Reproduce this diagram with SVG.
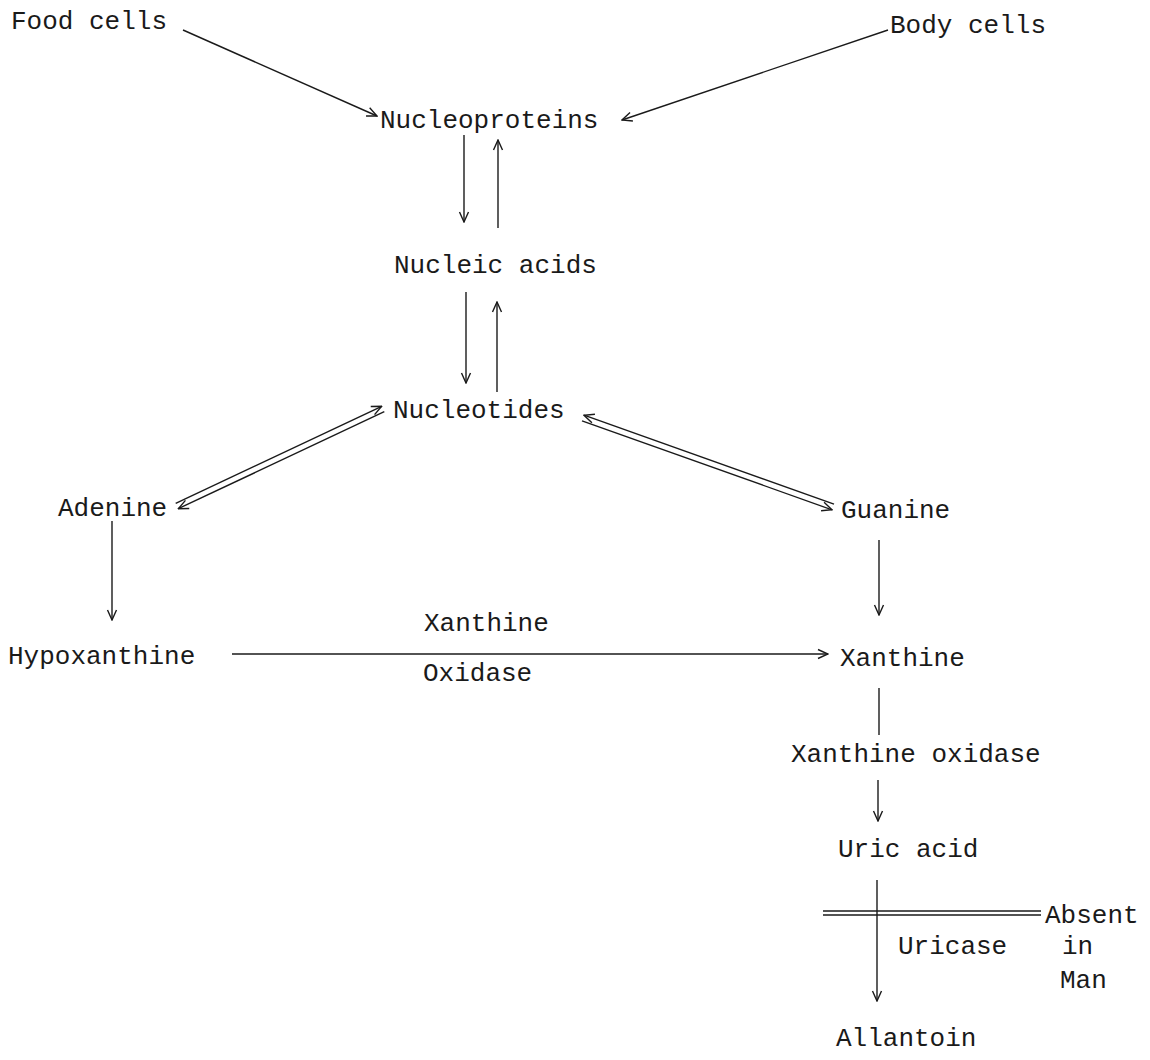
<svg xmlns="http://www.w3.org/2000/svg" width="1150" height="1060" viewBox="0 0 1150 1060">
<defs>
<style>
.t{font-family:"Liberation Mono","DejaVu Sans Mono",monospace;font-size:26px;fill:#1a1a1a}
.c{stroke:#1a1a1a;stroke-width:1.4;fill:none}
</style>
<marker id="ah" viewBox="0 0 12 12" refX="11" refY="6" markerWidth="12" markerHeight="12" markerUnits="userSpaceOnUse" orient="auto-start-reverse">
<path d="M1,1.5 L11,6 L1,10.5" fill="none" stroke="#1a1a1a" stroke-width="1.4"/>
</marker>
</defs>
<rect width="1150" height="1060" fill="#ffffff"/>
<g id="connectors">
<line class="c" x1="183" y1="30" x2="377" y2="116" marker-end="url(#ah)"/>
<line class="c" x1="888" y1="30" x2="622" y2="120" marker-end="url(#ah)"/>
<line class="c" x1="464" y1="135" x2="464" y2="222" marker-end="url(#ah)"/>
<line class="c" x1="498" y1="228" x2="498" y2="140" marker-end="url(#ah)"/>
<line class="c" x1="466" y1="292" x2="466" y2="383" marker-end="url(#ah)"/>
<line class="c" x1="497" y1="392" x2="497" y2="302" marker-end="url(#ah)"/>
<line class="c" x1="175.7" y1="503.3" x2="381.7" y2="406.3" marker-end="url(#ah)"/>
<line class="c" x1="178.3" y1="508.7" x2="384.3" y2="411.7" marker-start="url(#ah)"/>
<line class="c" x1="584" y1="415.2" x2="834" y2="504.2" marker-start="url(#ah)"/>
<line class="c" x1="582" y1="420.8" x2="832" y2="509.8" marker-end="url(#ah)"/>
<line class="c" x1="112" y1="521" x2="112" y2="620" marker-end="url(#ah)"/>
<line class="c" x1="232" y1="654" x2="828" y2="654" stroke-width="2" marker-end="url(#ah)"/>
<line class="c" x1="879" y1="540" x2="879" y2="615" marker-end="url(#ah)"/>
<line class="c" x1="879" y1="688" x2="879" y2="735"/>
<line class="c" x1="878" y1="780" x2="878" y2="821" marker-end="url(#ah)"/>
<line class="c" x1="877" y1="880" x2="877" y2="1001" marker-end="url(#ah)"/>
<line class="c" x1="823" y1="911" x2="1041" y2="911"/>
<line class="c" x1="823" y1="915" x2="1041" y2="915"/>
</g>
<g id="food-cells"><text class="t" x="11" y="29">Food cells</text></g>
<g id="body-cells"><text class="t" x="890" y="33">Body cells</text></g>
<g id="nucleoproteins"><text class="t" x="380" y="128">Nucleoproteins</text></g>
<g id="nucleic-acids"><text class="t" x="394" y="273">Nucleic acids</text></g>
<g id="nucleotides"><text class="t" x="393" y="418">Nucleotides</text></g>
<g id="adenine"><text class="t" x="58" y="516">Adenine</text></g>
<g id="guanine"><text class="t" x="841" y="518">Guanine</text></g>
<g id="hypoxanthine"><text class="t" x="8" y="664">Hypoxanthine</text></g>
<g id="xanthine-oxidase-label"><text class="t" x="424" y="631">Xanthine</text><text class="t" x="423" y="681">Oxidase</text></g>
<g id="xanthine"><text class="t" x="840" y="666">Xanthine</text></g>
<g id="xanthine-oxidase"><text class="t" x="791" y="762">Xanthine oxidase</text></g>
<g id="uric-acid"><text class="t" x="838" y="857">Uric acid</text></g>
<g id="uricase"><text class="t" x="898" y="954">Uricase</text></g>
<g id="absent-in-man"><text class="t" x="1045" y="923">Absent</text><text class="t" x="1062" y="954">in</text><text class="t" x="1060" y="988">Man</text></g>
<g id="allantoin"><text class="t" x="836" y="1046">Allantoin</text></g>
</svg>
